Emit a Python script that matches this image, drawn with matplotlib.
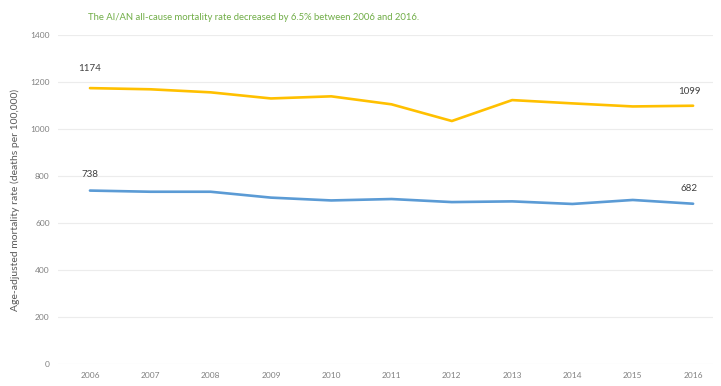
import matplotlib
matplotlib.use("Agg")
import matplotlib.pyplot as plt

years = ["2006", "2007", "2008", "2009", "2010", "2011", "2012", "2013", "2014", "2015", "2016"]
aian_rate = [1174, 1169, 1156, 1130, 1139, 1105, 1034, 1123, 1109, 1096, 1099]
white_rate = [738, 733, 733, 708, 696, 702, 689, 692, 681, 698, 682]
y_ticks = [0, 200, 400, 600, 800, 1000, 1200, 1400]

title = "The AI/AN all-cause mortality rate decreased by 6.5% between 2006 and 2016."
y_label = "Age-adjusted mortality rate (deaths per 100,000)"

plt.rcParams["font.family"] = ["Lato", "DejaVu Sans"]

fig = plt.figure(figsize=(7.21, 3.86), dpi=100)
ax = fig.add_axes([58 / 721, 22 / 386, (713 - 58) / 721, (364 - 35) / 386])

x = list(range(len(years)))
ax.plot(x, aian_rate, color="#FFC000", lw=1.9, solid_capstyle="round", zorder=3)
ax.plot(x, white_rate, color="#5B9BD5", lw=1.9, solid_capstyle="round", zorder=3)

# endpoint value labels
label_color = "#404040"
ax.annotate(str(aian_rate[0]), (x[0], aian_rate[0]), xytext=(0, 11), textcoords="offset points",
            ha="center", va="bottom", fontsize=7, color=label_color)
ax.annotate(str(white_rate[0]), (x[0], white_rate[0]), xytext=(0, 8), textcoords="offset points",
            ha="center", va="bottom", fontsize=7, color=label_color)
ax.annotate(str(aian_rate[-1]), (x[-1], aian_rate[-1]), xytext=(-3, 7), textcoords="offset points",
            ha="center", va="bottom", fontsize=7, color=label_color)
ax.annotate(str(white_rate[-1]), (x[-1], white_rate[-1]), xytext=(-3, 8), textcoords="offset points",
            ha="center", va="bottom", fontsize=7, color=label_color)

ax.set_xlim(-0.53, 10.33)
ax.set_ylim(0, 1400)
ax.set_xticks(x)
ax.set_xticklabels(years)
ax.set_yticks(y_ticks)
ax.set_yticklabels([str(v) for v in y_ticks])
ax.tick_params(axis="both", length=0, labelsize=6, colors="#808080")
ax.tick_params(axis="y", pad=6)
ax.tick_params(axis="x", pad=6)

ax.grid(axis="y", color="#ececec", lw=0.8)
ax.set_axisbelow(True)
for s in ax.spines.values():
    s.set_visible(False)

ax.set_ylabel(y_label, fontsize=7.5, color="#595959", labelpad=7)

fig.text(88 / 721, 1 - 18 / 386, title, fontsize=6.8, color="#70AD47", ha="left", va="center")

fig.savefig("out.png", dpi=100, facecolor="white")
